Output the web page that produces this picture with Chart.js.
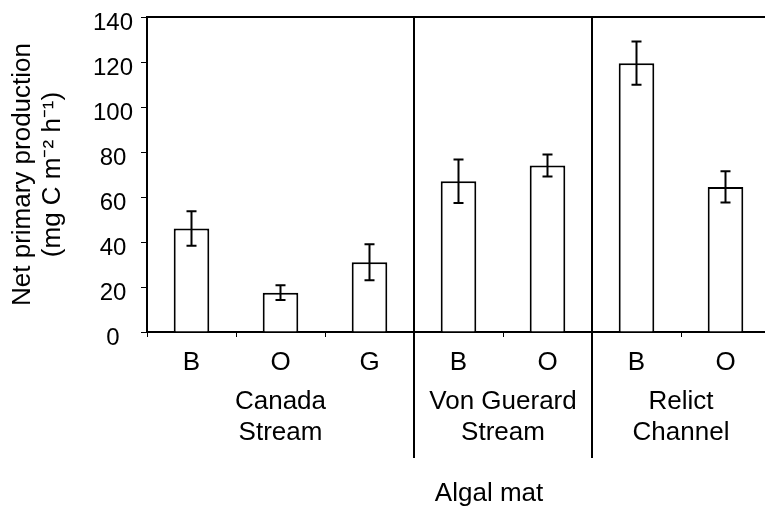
<!DOCTYPE html>
<html>
<head>
<meta charset="utf-8">
<script src="https://cdn.jsdelivr.net/npm/chart.js@4/dist/chart.umd.min.js"></script>
<style>
  html, body { margin: 0; padding: 0; background: #fff; overflow: hidden; }
  #wrap { width: 770px; height: 508px; }
</style>
</head>
<body>
<div id="wrap"><canvas id="nppChart"></canvas></div>
<script>
// Algal mat types per site
const matLabels = ['B', 'O', 'G', 'B', 'O', 'B', 'O'];
// Net primary production means and standard errors (mg C m-2 h-1)
const nppMeans = [46, 17.5, 31, 67, 74, 119.5, 64.5];
const nppErrors = [7.7, 3.3, 8, 9.7, 4.9, 9.6, 6.9];
// Site groups: name lines and category index range
const siteNames = [['Canada', 'Stream'], ['Von Guerard', 'Stream'], ['Relict', 'Channel']];
const siteStart = [0, 3, 5];
const siteEnd = [2, 4, 6];
const yTicks = [0, 20, 40, 60, 80, 100, 120, 140];

const fontFamily = '"Liberation Sans", Arial, sans-serif';
Chart.defaults.font.family = fontFamily;
Chart.defaults.color = '#000';

const errorBars = {
  id: 'errorBars',
  afterDatasetsDraw(chart) {
    const ctx = chart.ctx;
    const y = chart.scales.y;
    const meta = chart.getDatasetMeta(0);
    ctx.save();
    ctx.strokeStyle = '#000';
    ctx.lineWidth = 2;
    meta.data.forEach((bar, i) => {
      const top = y.getPixelForValue(nppMeans[i] + nppErrors[i]);
      const bot = y.getPixelForValue(nppMeans[i] - nppErrors[i]);
      ctx.beginPath();
      ctx.moveTo(bar.x, top); ctx.lineTo(bar.x, bot);
      ctx.moveTo(bar.x - 5, top); ctx.lineTo(bar.x + 5, top);
      ctx.moveTo(bar.x - 5, bot); ctx.lineTo(bar.x + 5, bot);
      ctx.stroke();
    });
    ctx.restore();
  }
};

const frame = {
  id: 'frame',
  afterDraw(chart) {
    const ctx = chart.ctx;
    const a = chart.chartArea;
    const x = chart.scales.x;
    ctx.save();
    ctx.strokeStyle = '#000';
    ctx.lineWidth = 2;
    // top border
    ctx.beginPath();
    ctx.moveTo(a.left - 1, a.top);
    ctx.lineTo(a.right, a.top);
    ctx.stroke();
    // site separators running down through the labels
    for (let g = 1; g < siteStart.length; g++) {
      const sx = (x.getPixelForValue(siteStart[g] - 1) + x.getPixelForValue(siteStart[g])) / 2;
      ctx.beginPath();
      ctx.moveTo(sx, a.top);
      ctx.lineTo(sx, a.bottom + 126);
      ctx.stroke();
    }
    // site names
    ctx.fillStyle = '#000';
    ctx.font = '26px ' + fontFamily;
    ctx.textAlign = 'center';
    ctx.textBaseline = 'middle';
    siteNames.forEach((lines, g) => {
      const cx = (x.getPixelForValue(siteStart[g]) + x.getPixelForValue(siteEnd[g])) / 2;
      lines.forEach((t, k) => ctx.fillText(t, cx, a.bottom + 70 + k * 31));
    });
    // axis title
    ctx.fillText('Algal mat', a.left + (a.right - a.left) * 0.549, a.bottom + 162);
    ctx.restore();
  }
};

new Chart(document.getElementById('nppChart'), {
  type: 'bar',
  data: {
    labels: matLabels,
    datasets: [{
      data: nppMeans,
      backgroundColor: '#fff',
      borderColor: '#000',
      borderWidth: 2,
      barPercentage: 0.4,
      categoryPercentage: 1.0
    }]
  },
  options: {
    responsive: true,
    maintainAspectRatio: false,
    animation: false,
    layout: { padding: { top: 17, right: 0, bottom: 0, left: 0 } },
    plugins: {
      legend: { display: false },
      tooltip: { enabled: false }
    },
    scales: {
      x: {
        afterFit: s => { s.height = 176; s.paddingLeft = 0; s.paddingRight = 0; },
        grid: {
          display: true,
          drawOnChartArea: false,
          drawTicks: true,
          tickLength: 5,
          tickColor: '#000',
          lineWidth: 1,
          offset: true
        },
        border: { display: true, color: '#000', width: 2 },
        ticks: { font: { size: 26 }, padding: 10, maxRotation: 0, autoSkip: false }
      },
      y: {
        min: 0,
        max: 140,
        afterFit: s => { s.width = 147; s.paddingTop = 0; s.paddingBottom = 0; },
        afterBuildTicks: s => { s.ticks = yTicks.map(v => ({ value: v })); },
        grid: {
          display: true,
          drawOnChartArea: false,
          drawTicks: true,
          tickLength: 6,
          tickColor: '#000',
          lineWidth: 1
        },
        border: { display: true, color: '#000', width: 2 },
        ticks: { font: { size: 24 }, padding: 8, crossAlign: 'center', labelOffset: 6 },
        title: {
          display: true,
          text: ['Net primary production', '(mg C m\u207B\u00B2 h\u207B\u00B9)'],
          font: { size: 26, lineHeight: 1.15 },
          padding: { top: 8, bottom: 0 }
        }
      }
    }
  },
  plugins: [errorBars, frame]
});
</script>
</body>
</html>
